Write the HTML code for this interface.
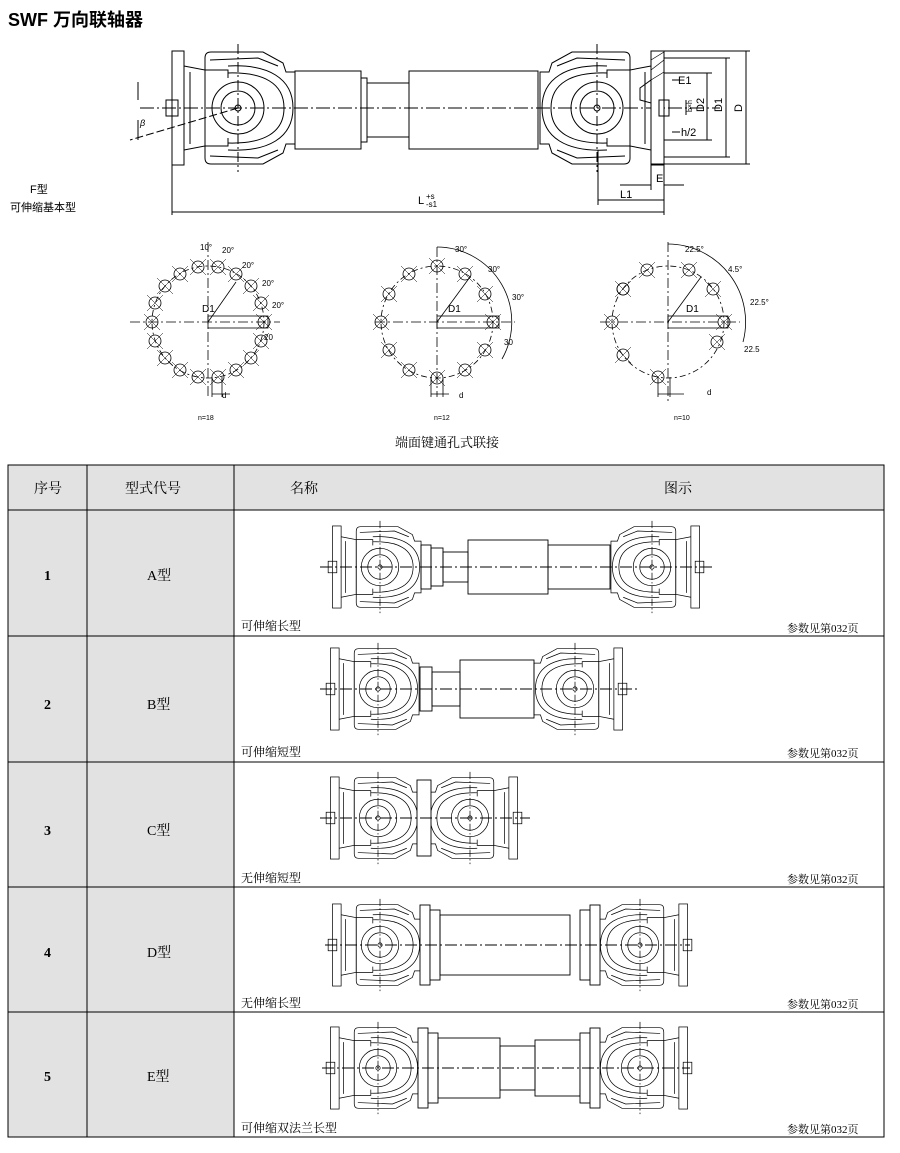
<!DOCTYPE html>
<html><head><meta charset="utf-8"><style>
body{margin:0;background:#fff;}
svg{display:block;font-family:"Liberation Sans","Noto Sans CJK SC",sans-serif;}
.s{font-family:"Liberation Serif","Noto Serif CJK SC",serif;}
</style></head><body>
<svg width="900" height="1153" viewBox="0 0 900 1153" xmlns="http://www.w3.org/2000/svg">
<defs>
<g id="J" fill="none" stroke="#000" stroke-width="1">
 <rect x="-66" y="-57" width="12" height="114"/>
 <rect x="-72" y="-8" width="12" height="16"/>
 <path d="M-54 -42 L-33 -38 L-33 38 L-54 42"/>
 <path d="M-48 -36 V36"/>
 <path d="M-33 -50 Q-33 -56 -27 -56 L25 -56 L45 -45 L48 -36 L57 -36 L57 36 L48 36 L45 45 L25 56 L-27 56 Q-33 56 -33 50 Z"/>
 <path d="M-28 -48 L20 -50 L40 -42 M-28 48 L20 50 L40 42"/>
 <path d="M-10 -42 C30 -44 55 -30 55 0 C55 30 30 44 -10 42"/>
 <path d="M-10 -35 C25 -36 46 -25 46 0 C46 25 25 36 -10 35"/>
 <path d="M-33 -38 H-10 V-30 M-33 38 H-10 V30"/>
 <circle r="26"/><circle r="17"/><circle r="3"/>
 <path d="M0 -64 V64" stroke-dasharray="10 3 2 3"/>
</g>
<g id="B" fill="none" stroke="#000" stroke-width="0.8">
 <circle r="6"/><path d="M-8 -8 L8 8 M-8 8 L8 -8" stroke-width="0.5"/>
</g>
</defs>

<text x="8" y="26" font-size="18" font-weight="bold" font-family="Liberation Sans,Noto Sans CJK SC,sans-serif">SWF 万向联轴器</text>

<!-- main drawing -->
<g stroke="#000" fill="none" stroke-width="1">
 <use href="#J" x="238" y="108"/>
 <use href="#J" transform="translate(597,108) scale(-1,1)"/>
 <rect x="295" y="71" width="66" height="78"/>
 <rect x="361" y="78" width="6" height="64"/>
 <rect x="367" y="83" width="42" height="54"/>
 <rect x="409" y="71" width="129" height="78"/>
 <path d="M140 108 H720" stroke-dasharray="14 3 2 3"/>
 <path d="M238 108 L130 140" stroke-dasharray="8 3"/>
 <path d="M138 82 V100 M138 120 V140"/>
 <!-- right flange detail -->
 <rect x="651" y="51" width="13" height="113" fill="#fff"/>
 <path d="M651 60 L664 52 M651 70 L664 60 M651 80 L664 72" stroke-width="0.7"/>
 <path d="M640 88 L651 80 V103 L640 100 Z"/>
 <rect x="659" y="100" width="10" height="16"/>
 <path d="M664 51 H750 M664 58 H730 M664 73 H712 M664 140 H712 M664 157 H730 M664 164 H750"/>
 <path d="M746 51 V164 M726 58 V157 M707 73 V140"/>
 <path d="M172 165 V215 M664 164 V215 M598 150 V205 M651 164 V190"/>
 <path d="M172 212 H664 M598 200 H664 M620 185 H651 M664 185 H684"/>
 <path d="M672 80 H680 M672 132 H680 M686 100 V115"/>
</g>
<g font-size="11">
 <text x="678" y="84">E1</text>
 <text x="681" y="136">h/2</text>
 <text x="704" y="112" transform="rotate(-90 704 112)">D2</text>
 <text x="722" y="112" transform="rotate(-90 722 112)">D1</text>
 <text x="742" y="112" transform="rotate(-90 742 112)">D</text>
 <text x="656" y="182">E</text>
 <text x="620" y="198">L1</text>
 <text x="418" y="204">L</text>
 <text x="426" y="199" font-size="8">+s</text>
 <text x="426" y="207" font-size="8">-s1</text>
 <text x="140" y="126" font-style="italic" font-size="9">β</text>
 <text x="692" y="112" font-size="7" transform="rotate(-90 692 112)">b×h</text>
 <text x="30" y="193">F型</text>
 <text x="10" y="211">可伸缩基本型</text>
</g>

<!-- bolt circles -->
<g stroke="#000" fill="none" stroke-width="0.8">
 <g transform="translate(208,322)">
  <circle r="56" stroke-dasharray="6 3 2 3"/>
  <path d="M-78 0 H72 M0 -80 V75" stroke-dasharray="10 3 2 3"/>
  <rect x="0" y="-6" width="60" height="12"/>
  <path d="M0 0 L28 -40"/>
  <use href="#B" x="56" y="0"/><use href="#B" x="53" y="19"/><use href="#B" x="43" y="36"/><use href="#B" x="28" y="48"/><use href="#B" x="10" y="55"/><use href="#B" x="-10" y="55"/><use href="#B" x="-28" y="48"/><use href="#B" x="-43" y="36"/><use href="#B" x="-53" y="19"/><use href="#B" x="-56" y="0"/><use href="#B" x="-53" y="-19"/><use href="#B" x="-43" y="-36"/><use href="#B" x="-28" y="-48"/><use href="#B" x="-10" y="-55"/><use href="#B" x="10" y="-55"/><use href="#B" x="28" y="-48"/><use href="#B" x="43" y="-36"/><use href="#B" x="53" y="-19"/>
  <path d="M4 55 V75 M14 55 V75 M4 72 H22"/>
 </g>
 <g transform="translate(437,322)">
  <circle r="56" stroke-dasharray="6 3 2 3"/>
  <path d="M-62 0 H78 M0 -75 V75" stroke-dasharray="10 3 2 3"/>
  <path d="M0 -75 A75 75 0 0 1 65 37"/>
  <rect x="0" y="-6" width="62" height="12"/>
  <path d="M0 0 L33 -45"/>
  <use href="#B" x="56" y="0"/><use href="#B" x="48" y="28"/><use href="#B" x="28" y="48"/><use href="#B" x="0" y="56"/><use href="#B" x="-28" y="48"/><use href="#B" x="-48" y="28"/><use href="#B" x="-56" y="0"/><use href="#B" x="-48" y="-28"/><use href="#B" x="-28" y="-48"/><use href="#B" x="0" y="-56"/><use href="#B" x="28" y="-48"/><use href="#B" x="48" y="-28"/>
  <path d="M-6 56 V75 M6 56 V75 M-6 72 H12"/>
 </g>
 <g transform="translate(668,322)">
  <circle r="56" stroke-dasharray="6 3 2 3"/>
  <path d="M-68 0 H72 M0 -80 V80" stroke-dasharray="10 3 2 3"/>
  <path d="M0 -78 A78 78 0 0 1 75 20"/>
  <rect x="0" y="-6" width="60" height="12"/>
  <path d="M0 0 L33 -45"/>
  <use href="#B" x="56" y="0"/><use href="#B" x="49" y="20"/><use href="#B" x="21" y="-52"/><use href="#B" x="45" y="-33"/><use href="#B" x="-21" y="-52"/><use href="#B" x="-45" y="-33"/><use href="#B" x="-56" y="0"/><use href="#B" x="-45" y="33"/><use href="#B" x="-10" y="55"/><use href="#B" x="-45" y="-33"/>
  <path d="M-10 55 V75 M2 55 V75 M-10 72 H16"/>
 </g>
</g>
<g font-size="8">
 <text x="200" y="250">10°</text><text x="222" y="253">20°</text><text x="242" y="268">20°</text><text x="262" y="286">20°</text><text x="272" y="308">20°</text><text x="264" y="340">20</text>
 <text x="455" y="252">30°</text><text x="488" y="272">30°</text><text x="512" y="300">30°</text><text x="504" y="345">30</text>
 <text x="685" y="252">22.5°</text><text x="728" y="272">4.5°</text><text x="750" y="305">22.5°</text><text x="744" y="352">22.5</text>
 <text x="202" y="312" font-size="10">D1</text><text x="448" y="312" font-size="10">D1</text><text x="686" y="312" font-size="10">D1</text>
 <text x="222" y="398">d</text><text x="459" y="398">d</text><text x="707" y="395">d</text>
 <text x="198" y="420" font-size="7">n=18</text><text x="434" y="420" font-size="7">n=12</text><text x="674" y="420" font-size="7">n=10</text>
</g>
<text x="395" y="447" font-size="13" class="s">端面键通孔式联接</text>

<!-- table -->
<rect x="8" y="465" width="876" height="45" fill="#e2e2e2"/>
<rect x="8" y="510" width="226" height="627" fill="#e2e2e2"/>
<g stroke="#000" stroke-width="1" fill="none">
 <rect x="8" y="465" width="876" height="672"/>
 <path d="M87 465 V1137 M234 465 V1137 M8 510 H884 M8 636 H884 M8 762 H884 M8 887 H884 M8 1012 H884"/>
</g>
<g class="s" font-size="14">
 <text x="34" y="493">序号</text><text x="125" y="493">型式代号</text><text x="290" y="493">名称</text><text x="664" y="493">图示</text>
 <g font-weight="bold"><text x="44" y="580">1</text><text x="44" y="709">2</text><text x="44" y="835">3</text><text x="44" y="957">4</text><text x="44" y="1081">5</text></g>
 <text x="147" y="580">A型</text><text x="147" y="709">B型</text><text x="147" y="835">C型</text><text x="147" y="957">D型</text><text x="147" y="1081">E型</text>
</g>
<g class="s" font-size="12">
 <text x="241" y="630">可伸缩长型</text><text x="241" y="756">可伸缩短型</text><text x="241" y="882">无伸缩短型</text><text x="241" y="1007">无伸缩长型</text><text x="241" y="1132">可伸缩双法兰长型</text>
 <text x="787" y="632" font-size="11">参数见第032页</text><text x="787" y="757" font-size="11">参数见第032页</text><text x="787" y="883" font-size="11">参数见第032页</text><text x="787" y="1008" font-size="11">参数见第032页</text><text x="787" y="1133" font-size="11">参数见第032页</text>
</g>

<g stroke="#000" fill="none" stroke-width="0.9">
 <!-- row1 -->
 <use href="#J" transform="translate(380,567) scale(0.72)"/>
 <use href="#J" transform="translate(652,567) scale(-0.72,0.72)"/>
 <rect x="421" y="545" width="10" height="44"/><rect x="431" y="548" width="12" height="38"/>
 <rect x="443" y="552" width="25" height="30"/><rect x="468" y="540" width="80" height="54"/>
 <rect x="548" y="545" width="62" height="44"/>
 <path d="M320 567 H712" stroke-dasharray="12 3 2 3"/>
 <!-- row2 -->
 <use href="#J" transform="translate(378,689) scale(0.72)"/>
 <use href="#J" transform="translate(575,689) scale(-0.72,0.72)"/>
 <rect x="420" y="667" width="12" height="44"/><rect x="432" y="672" width="28" height="34"/>
 <rect x="460" y="660" width="74" height="58"/>
 <path d="M320 689 H640" stroke-dasharray="12 3 2 3"/>
 <!-- row3 -->
 <use href="#J" transform="translate(378,818) scale(0.72)"/>
 <use href="#J" transform="translate(470,818) scale(-0.72,0.72)"/>
 <rect x="417" y="780" width="14" height="76" fill="#fff"/>
 <path d="M320 818 H530" stroke-dasharray="12 3 2 3"/>
 <!-- row4 -->
 <use href="#J" transform="translate(380,945) scale(0.72)"/>
 <use href="#J" transform="translate(640,945) scale(-0.72,0.72)"/>
 <rect x="420" y="905" width="10" height="80" fill="#fff"/><rect x="430" y="910" width="10" height="70" fill="#fff"/>
 <rect x="440" y="915" width="130" height="60"/>
 <rect x="580" y="910" width="10" height="70" fill="#fff"/><rect x="590" y="905" width="10" height="80" fill="#fff"/>
 <path d="M325 945 H690" stroke-dasharray="12 3 2 3"/>
 <!-- row5 -->
 <use href="#J" transform="translate(378,1068) scale(0.72)"/>
 <use href="#J" transform="translate(640,1068) scale(-0.72,0.72)"/>
 <rect x="418" y="1028" width="10" height="80" fill="#fff"/><rect x="428" y="1033" width="10" height="70" fill="#fff"/>
 <rect x="438" y="1038" width="62" height="60"/><rect x="500" y="1046" width="35" height="44"/>
 <rect x="535" y="1040" width="45" height="56"/>
 <rect x="580" y="1033" width="10" height="70" fill="#fff"/><rect x="590" y="1028" width="10" height="80" fill="#fff"/>
 <path d="M322 1068 H690" stroke-dasharray="12 3 2 3"/>
</g>
</svg>
</body></html>
